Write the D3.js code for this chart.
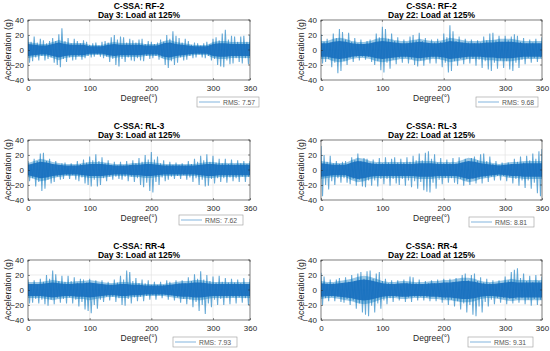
<!DOCTYPE html>
<html><head><meta charset="utf-8">
<script src="https://cdn.jsdelivr.net/npm/d3@7"></script>
<style>
body{margin:0;background:#fff}
svg{display:block}
text{font-family:"Liberation Sans",Arial,Helvetica,sans-serif}
</style>
</head><body>
<svg id="chart" width="550" height="351"></svg>
<script>
// ---------- data ----------
const xTicks = [0, 100, 200, 300, 360];
const yTicks = [-40, -20, 0, 20, 40];
const sensors = ["RF-2", "RF-2", "RL-3", "RL-3", "RR-4", "RR-4"];
const days = ["Day 3", "Day 22", "Day 3", "Day 22", "Day 3", "Day 22"];
const rmsLabels = ["RMS: 7.57", "RMS: 9.68", "RMS: 7.62", "RMS: 8.81", "RMS: 7.93", "RMS: 9.31"];

// upper spike tips every 5° (from 0°), lower spike tips every 5° (from 2.5°), dense core half-width every 10°
const hiA = [19,11,18,10,15,13,9,12,16,12,21,29,12,16,9,15,12,9,13,11,7,9,10,6,11,12,10,17,20,14,18,17,10,15,13,10,14,15,8,12,11,8,10,14,11,20,15,25,19,16,10,15,12,7,10,9,6,9,11,8,15,17,13,22,27,14,19,18,11,18,19,11,20];
const loA = [-17,-15,-10,-14,-8,-14,-12,-10,-17,-20,-23,-12,-16,-10,-14,-13,-8,-13,-11,-8,-10,-9,-6,-9,-11,-9,-16,-12,-20,-22,-12,-16,-10,-14,-15,-11,-14,-15,-8,-12,-11,-8,-13,-11,-20,-24,-15,-20,-17,-10,-14,-13,-8,-11,-10,-6,-10,-11,-8,-14,-12,-20,-22,-23,-14,-19,-18,-11,-16,-18,-11,-19];
const coreA = [8,7,6,6,8,10,8,7,7,7,5,5,5,7,8,7,7,7,7,6,6,6,9,10,8,7,6,5,5,5,8,9,9,8,8,8,8];

const hiB = [21,11,15,10,22,16,28,24,14,23,11,16,9,14,8,12,14,10,22,17,31,28,15,22,12,17,9,14,10,18,20,13,23,12,16,9,14,10,15,11,22,17,33,25,12,18,10,15,10,14,9,13,10,18,13,22,23,13,19,11,19,13,18,21,19,11,16,9,14,10,15,9,17];
const loB = [-18,-16,-12,-23,-17,-31,-28,-15,-20,-11,-16,-9,-14,-9,-13,-9,-16,-20,-15,-27,-30,-17,-25,-13,-19,-11,-17,-10,-18,-12,-20,-22,-14,-21,-12,-18,-10,-18,-12,-23,-17,-30,-28,-15,-21,-12,-19,-12,-18,-12,-21,-13,-24,-15,-26,-28,-17,-25,-14,-24,-15,-26,-28,-17,-24,-13,-19,-11,-17,-11,-16,-10];
const coreB = [9,9,11,12,11,9,8,8,9,11,12,11,10,9,9,10,11,10,9,9,10,12,11,10,9,9,9,10,10,11,11,11,10,9,9,9,9];

const hiC = [12,7,15,12,22,23,12,15,8,12,6,9,10,5,9,6,12,8,14,10,18,13,21,12,17,9,13,7,11,6,11,6,12,7,13,9,16,11,20,14,24,14,18,9,13,7,11,7,10,7,9,6,12,8,15,11,19,13,21,11,19,10,15,9,15,8,14,7,13,9,12,8,12];
const loC = [-15,-11,-22,-16,-28,-25,-13,-18,-16,-9,-13,-12,-7,-12,-7,-13,-15,-10,-18,-20,-22,-13,-22,-20,-11,-15,-9,-13,-9,-12,-13,-9,-15,-9,-16,-11,-20,-23,-17,-28,-30,-16,-20,-10,-15,-13,-9,-12,-8,-12,-7,-13,-10,-16,-11,-20,-13,-22,-21,-12,-18,-11,-16,-11,-17,-10,-15,-11,-16,-9,-16,-9];
const coreC = [7,9,11,10,8,7,6,6,6,7,8,8,8,7,6,6,6,7,7,8,8,7,6,6,6,6,6,6,7,8,8,7,7,7,7,7,7];

const hiD = [32,20,11,19,9,12,8,11,12,8,17,13,22,12,16,15,10,14,9,16,9,17,10,15,17,10,15,10,17,11,19,13,22,13,23,25,15,21,10,16,9,14,9,16,9,17,10,15,10,16,18,13,21,22,12,18,8,12,7,10,7,10,8,15,11,18,10,19,13,22,15,25,28];
const loD = [-35,-20,-26,-15,-20,-11,-17,-11,-17,-19,-12,-21,-13,-22,-23,-14,-21,-14,-22,-12,-19,-12,-21,-12,-18,-20,-12,-21,-14,-23,-15,-25,-16,-27,-29,-30,-17,-25,-13,-19,-11,-17,-11,-17,-19,-12,-21,-14,-20,-12,-18,-12,-18,-10,-16,-9,-14,-8,-14,-8,-15,-10,-18,-12,-21,-14,-24,-14,-25,-17,-31,-35];
const coreD = [9,8,7,7,7,10,12,11,9,8,8,8,8,8,8,8,9,9,9,8,8,8,8,10,12,11,9,8,7,6,7,8,8,9,9,9,9];

const hiE = [14,8,13,7,15,11,20,15,26,21,12,19,11,19,12,17,10,15,14,10,15,9,13,7,13,7,11,7,14,10,19,14,26,24,12,16,9,14,9,13,7,11,7,11,7,13,11,7,13,9,13,9,17,12,21,15,25,14,20,12,18,10,19,11,16,10,15,10,14,9,16,8,15];
const loE = [-18,-17,-12,-18,-13,-19,-21,-13,-19,-11,-17,-12,-18,-10,-18,-13,-22,-16,-26,-28,-31,-20,-25,-13,-16,-9,-14,-9,-16,-11,-20,-21,-12,-18,-10,-15,-9,-15,-8,-13,-7,-13,-7,-11,-7,-13,-7,-14,-10,-17,-12,-19,-13,-23,-16,-28,-20,-32,-18,-23,-13,-20,-12,-20,-11,-19,-10,-18,-10,-17,-11,-20];
const coreE = [8,8,8,9,10,9,8,8,9,9,10,9,8,7,7,8,8,7,7,6,6,6,6,7,8,9,9,10,10,9,8,8,8,8,8,8,8];

const hiF = [23,18,9,14,9,14,16,9,17,11,20,12,22,24,15,25,26,15,22,24,12,15,9,13,7,13,7,14,10,18,17,9,14,8,12,9,13,9,14,8,15,10,15,11,16,11,20,22,13,20,22,12,17,10,15,9,13,7,13,9,18,13,24,27,29,16,22,12,19,11,20,12,18];
const loF = [-20,-11,-15,-9,-15,-9,-16,-17,-12,-20,-14,-25,-18,-30,-33,-35,-21,-30,-18,-25,-14,-19,-11,-16,-9,-14,-9,-16,-10,-16,-9,-14,-9,-14,-10,-15,-8,-15,-10,-17,-12,-20,-13,-22,-15,-26,-18,-30,-20,-33,-35,-22,-30,-16,-22,-13,-19,-11,-17,-11,-19,-12,-18,-12,-17,-11,-19,-13,-21,-12,-20,-13];
const coreF = [9,8,8,9,10,11,13,14,13,11,9,8,8,9,9,8,8,8,9,9,10,10,11,12,12,11,9,8,8,9,10,11,10,10,10,10,10];

const hiSeries = [hiA, hiB, hiC, hiD, hiE, hiF];
const loSeries = [loA, loB, loC, loD, loE, loF];
const coreSeries = [coreA, coreB, coreC, coreD, coreE, coreF];
const spikeStep = 5, coreStep = 10;

// ---------- layout ----------
const colX = [[28, 250], [321, 542]];
const rowY = [20, 140, 260];
const plotH = 60;
const legendBoxes = [[197, 97, 62], [476, 97, 62], [179, 215, 64], [469, 217, 65], [173, 337, 64], [468, 337, 65]];
const blue = "#0072BD";
const axisCol = "#262626";

const svg = d3.select("#chart");

for (let p = 0; p < 6; p++) {
  const col = p % 2, row = Math.floor(p / 2);
  const [x0, x1] = colX[col];
  const top = rowY[row], bot = top + plotH;
  const x = d3.scaleLinear().domain([0, 360]).range([x0, x1]);
  const y = d3.scaleLinear().domain([-40, 40]).range([bot, top]);
  const g = svg.append("g");

  // background + grid
  g.append("rect").attr("x", x0).attr("y", top).attr("width", x1 - x0).attr("height", plotH).attr("fill", "#fff");
  g.selectAll(".vg").data(xTicks.slice(1, -1)).join("line")
    .attr("x1", d => x(d)).attr("x2", d => x(d)).attr("y1", top).attr("y2", bot)
    .attr("stroke", "#dfdfdf").attr("stroke-width", 0.6);
  g.selectAll(".hg").data(yTicks.slice(1, -1)).join("line")
    .attr("y1", d => y(d)).attr("y2", d => y(d)).attr("x1", x0).attr("x2", x1)
    .attr("stroke", "#dfdfdf").attr("stroke-width", 0.6);

  // clip
  const cid = "clip" + p;
  svg.append("clipPath").attr("id", cid).append("rect")
    .attr("x", x0).attr("y", top).attr("width", x1 - x0).attr("height", plotH);
  const dg = g.append("g").attr("clip-path", `url(#${cid})`);

  // spikes
  const hi = hiSeries[p], lo = loSeries[p];
  const pts = [];
  hi.forEach((v, k) => {
    pts.push([k * spikeStep, v]);
    if (k < lo.length) pts.push([k * spikeStep + spikeStep / 2, lo[k]]);
  });
  const line = d3.line().x(d => x(d[0])).y(d => y(d[1]));
  dg.append("path").datum(pts).attr("d", line).attr("fill", "none")
    .attr("stroke", blue).attr("stroke-width", 1.05).attr("opacity", 0.6);

  // dense core (soft halo + solid band)
  const core = coreSeries[p];
  const halo = d3.area().x((d, i) => x(i * coreStep)).y0(d => y(-d * 1.35)).y1(d => y(d * 1.35));
  dg.append("path").datum(core).attr("d", halo).attr("fill", blue).attr("opacity", 0.4);
  const area = d3.area().x((d, i) => x(i * coreStep)).y0(d => y(-d)).y1(d => y(d));
  dg.append("path").datum(core).attr("d", area).attr("fill", "#176fbf").attr("opacity", 0.9);

  // axes
  const xa = d3.axisBottom(x).tickValues(xTicks).tickSizeInner(-2).tickSizeOuter(0).tickPadding(5).tickFormat(d3.format("d"));
  const ya = d3.axisLeft(y).tickValues(yTicks).tickSizeInner(-2).tickSizeOuter(0).tickPadding(4).tickFormat(d3.format("d"));
  const gx = g.append("g").attr("transform", `translate(0,${bot})`).call(xa);
  const gy = g.append("g").attr("transform", `translate(${x0},0)`).call(ya);
  [gx, gy].forEach(a => {
    a.select(".domain").remove();
    a.selectAll("line").attr("stroke", axisCol).attr("stroke-width", 0.5);
    a.selectAll("text").attr("fill", axisCol).attr("font-size", "8px");
  });
  g.selectAll(".tt").data(xTicks).join("line")
    .attr("x1", d => x(d)).attr("x2", d => x(d)).attr("y1", top).attr("y2", top + 2)
    .attr("stroke", axisCol).attr("stroke-width", 0.5);
  g.selectAll(".rt").data(yTicks).join("line")
    .attr("y1", d => y(d)).attr("y2", d => y(d)).attr("x1", x1).attr("x2", x1 - 2)
    .attr("stroke", axisCol).attr("stroke-width", 0.5);
  g.append("rect").attr("x", x0).attr("y", top).attr("width", x1 - x0).attr("height", plotH)
    .attr("fill", "none").attr("stroke", axisCol).attr("stroke-width", 0.6);

  // titles
  const cx = (x0 + x1) / 2;
  g.append("text").attr("x", cx).attr("y", top - 11.5).attr("text-anchor", "middle")
    .attr("font-size", "8.5px").attr("font-weight", "bold").attr("fill", "#000").text("C-SSA: " + sensors[p]);
  g.append("text").attr("x", cx).attr("y", top - 2).attr("text-anchor", "middle")
    .attr("font-size", "8.5px").attr("font-weight", "bold").attr("fill", "#000").text(days[p] + ": Load at 125%");

  // axis labels
  g.append("text").attr("x", cx).attr("y", bot + 21).attr("text-anchor", "middle")
    .attr("font-size", "8.5px").attr("fill", axisCol).text("Degree(°)");
  g.append("text").attr("transform", `translate(${x0 - 17},${(top + bot) / 2}) rotate(-90)`)
    .attr("text-anchor", "middle").attr("font-size", "8.8px").attr("fill", axisCol).text("Acceleration (g)");

  // legend
  const [lx, ly, lw] = legendBoxes[p];
  const lg = svg.append("g");
  lg.append("rect").attr("x", lx).attr("y", ly).attr("width", lw).attr("height", 10)
    .attr("fill", "#fff").attr("stroke", "#9a9a9a").attr("stroke-width", 0.6);
  lg.append("line").attr("x1", lx + 2).attr("x2", lx + 23).attr("y1", ly + 5).attr("y2", ly + 5)
    .attr("stroke", "#4d95d0").attr("stroke-width", 0.7);
  lg.append("text").attr("x", lx + 26).attr("y", ly + 7.6).attr("font-size", "6.8px")
    .attr("fill", "#555").text(rmsLabels[p]);
}
</script>
</body></html>
